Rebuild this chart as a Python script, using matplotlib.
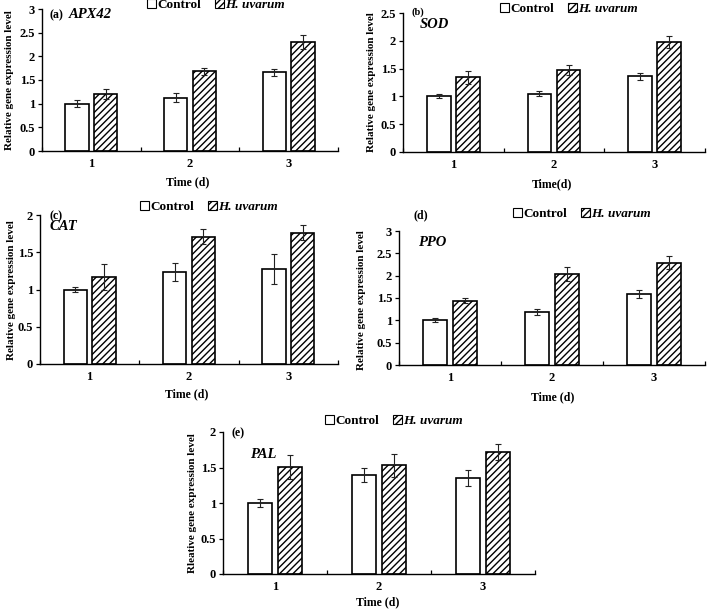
import matplotlib
matplotlib.use("Agg")
import matplotlib.pyplot as plt
from matplotlib.patches import Patch
from matplotlib.ticker import FuncFormatter
import numpy as np

plt.rcParams['font.family'] = ['Liberation Serif', 'DejaVu Serif']
plt.rcParams['font.weight'] = 'bold'
plt.rcParams['hatch.linewidth'] = 1.0

days = [1, 2, 3]
series_names = ["Control", "H. uvarum"]

apx_ctrl = [1.00, 1.13, 1.66]
apx_ctrl_err = [0.07, 0.10, 0.08]
apx_hu = [1.20, 1.68, 2.31]
apx_hu_err = [0.10, 0.08, 0.15]

sod_ctrl = [1.01, 1.05, 1.36]
sod_ctrl_err = [0.03, 0.05, 0.06]
sod_hu = [1.34, 1.48, 1.98]
sod_hu_err = [0.12, 0.09, 0.11]

cat_ctrl = [1.00, 1.24, 1.27]
cat_ctrl_err = [0.04, 0.12, 0.20]
cat_hu = [1.17, 1.71, 1.76]
cat_hu_err = [0.17, 0.10, 0.10]

ppo_ctrl = [1.01, 1.18, 1.59]
ppo_ctrl_err = [0.05, 0.07, 0.08]
ppo_hu = [1.44, 2.04, 2.29]
ppo_hu_err = [0.06, 0.15, 0.15]

pal_ctrl = [1.00, 1.39, 1.35]
pal_ctrl_err = [0.06, 0.10, 0.11]
pal_hu = [1.51, 1.53, 1.72]
pal_hu_err = [0.17, 0.16, 0.11]

W, H = 709, 610
fig = plt.figure(figsize=(W / 100, H / 100), dpi=100)


def rect(l, r, t, b):
    return [l / W, 1 - b / H, (r - l) / W, (b - t) / H]


def ftxt(x, y, s, **kw):
    fig.text(x / W, 1 - y / H, s, **kw)


def panel(r, ctrl, ce, hu, he, ymax, ystep, ylabel, ylab_xy, xlabel, xlab_xy,
          leg_xy, tag, tag_xy, gene, gene_xy, tag_size=8.5):
    ax = fig.add_axes(rect(*r))
    x = np.array(days, dtype=float)
    off, w = 0.145, 0.235
    ekw = dict(elinewidth=0.8, capthick=0.8, ecolor='#222222')
    ax.bar(x - off, ctrl, w, color='white', edgecolor='black', linewidth=1.2,
           yerr=ce, capsize=2.5, error_kw=ekw, zorder=2)
    ax.bar(x + off, hu, w, color='white', edgecolor='black', linewidth=1.2, hatch='/////',
           yerr=he, capsize=2.5, error_kw=ekw, zorder=2)
    ax.set_xlim(0.5, 3.5)
    ax.set_ylim(0, ymax)
    ax.set_yticks(np.arange(0, ymax + 1e-9, ystep))
    ax.yaxis.set_major_formatter(FuncFormatter(lambda v, p: ('%g' % round(v, 2))))
    ax.set_xticks([0.5, 1.5, 2.5, 3.5])
    ax.set_xticklabels([])
    ax.set_xticks(days, minor=True)
    ax.set_xticklabels([str(d) for d in days], minor=True)
    ax.tick_params(axis='x', which='major', direction='in', length=3, width=0.9)
    ax.tick_params(axis='x', which='minor', length=0, labelsize=9, pad=5)
    ax.tick_params(axis='y', direction='out', length=3, width=0.9, labelsize=9, pad=2)
    for s in ['top', 'right']:
        ax.spines[s].set_visible(False)
    for s in ['left', 'bottom']:
        ax.spines[s].set_linewidth(1.0)
    for lab in ax.get_xticklabels(minor=True) + ax.get_yticklabels():
        lab.set_fontweight('bold')
    ftxt(*ylab_xy, ylabel, rotation=90, ha='center', va='center', fontsize=8, fontweight='bold')
    ftxt(*xlab_xy, xlabel, ha='center', va='center', fontsize=8.5, fontweight='bold')
    ftxt(*tag_xy, tag, ha='left', va='center', fontsize=tag_size, fontweight='bold')
    ftxt(*gene_xy, gene, ha='left', va='center', fontsize=10.5, fontweight='bold', style='italic')
    handles = [Patch(facecolor='white', edgecolor='black', linewidth=0.8),
               Patch(facecolor='white', edgecolor='black', linewidth=0.8, hatch='/////')]
    leg = fig.legend(handles, series_names, loc='center left',
                     bbox_to_anchor=(leg_xy[0] / W, 1 - leg_xy[1] / H), ncol=2, frameon=False,
                     handlelength=0.65, handleheight=0.65, handletextpad=0.12, columnspacing=1.1,
                     borderpad=0, borderaxespad=0, prop=dict(size=9.5, weight='bold'))
    leg.get_texts()[1].set_fontstyle('italic')
    return ax


ylab = "Relative gene expression level"
panel((42, 338, 9, 151), apx_ctrl, apx_ctrl_err, apx_hu, apx_hu_err, 3, 0.5, ylab, (10, 80),
      "Time (d)", (188, 182), (147, 5), "(a)", (49, 15), "APX42", (69, 15))
panel((403, 705, 13, 152), sod_ctrl, sod_ctrl_err, sod_hu, sod_hu_err, 2.5, 0.5, ylab, (371, 82),
      "Time(d)", (552, 184), (500, 9), "(b)", (411, 12), "SOD", (420, 25), tag_size=7.5)
panel((40, 338, 215, 364), cat_ctrl, cat_ctrl_err, cat_hu, cat_hu_err, 2, 0.5, ylab, (12, 290),
      "Time (d)", (187, 394), (140, 207), "(c)", (49, 216), "CAT", (49, 227))
panel((399, 705, 231, 365), ppo_ctrl, ppo_ctrl_err, ppo_hu, ppo_hu_err, 3, 0.5, ylab, (362, 300),
      "Time (d)", (553, 397), (513, 214), "(d)", (413, 215), "PPO", (418, 243))
panel((223, 535, 432, 574), pal_ctrl, pal_ctrl_err, pal_hu, pal_hu_err, 2, 0.5,
      "Rleative gene expression level", (192, 503),
      "Time (d)", (378, 602), (325, 421), "(e)", (232, 433), "PAL", (250, 455))

fig.savefig("out.png", dpi=100)
